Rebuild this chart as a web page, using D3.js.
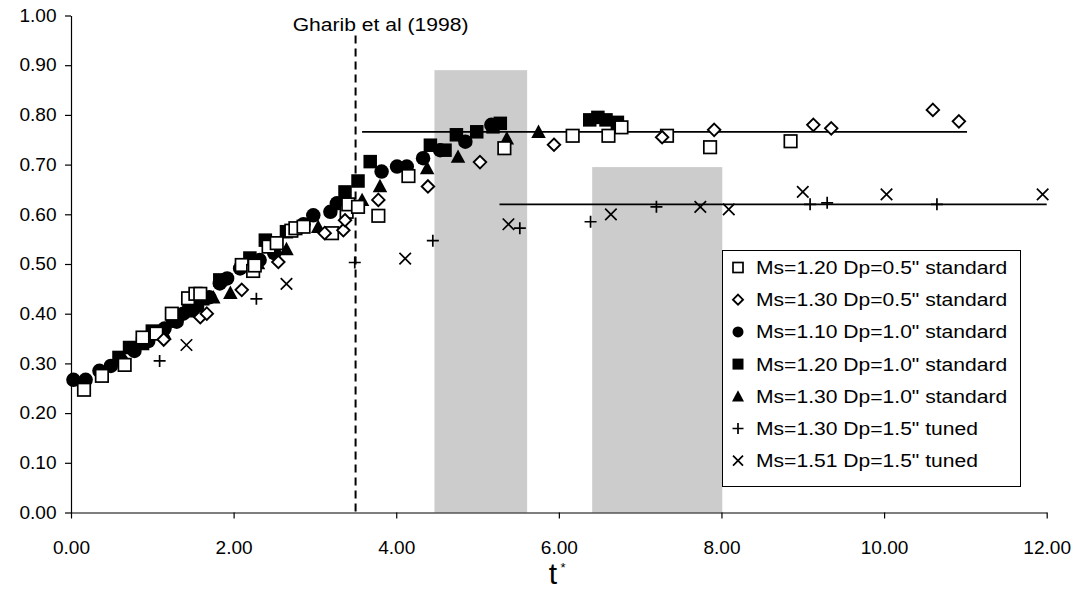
<!DOCTYPE html>
<html><head><meta charset="utf-8">
<script src="https://cdn.jsdelivr.net/npm/d3@7"></script>
<style>body{margin:0;background:#fff}svg{display:block}</style>
</head><body>
<svg id="chart" width="1078" height="592"></svg>
<script>
// ---------- data ----------
const xTicks = [0, 2, 4, 6, 8, 10, 12];
const yTicks = [0, 0.1, 0.2, 0.3, 0.4, 0.5, 0.6, 0.7, 0.8, 0.9, 1.0];
const legendLabels = [
  'Ms=1.20 Dp=0.5" standard',
  'Ms=1.30 Dp=0.5" standard',
  'Ms=1.10 Dp=1.0" standard',
  'Ms=1.20 Dp=1.0" standard',
  'Ms=1.30 Dp=1.0" standard',
  'Ms=1.30 Dp=1.5" tuned',
  'Ms=1.51 Dp=1.5" tuned'
];
const ms120dp05 = [[0.16,0.247],[0.38,0.275],[0.66,0.297],[0.88,0.352],[1.05,0.36],[1.24,0.40],[1.44,0.431],[1.53,0.44],[1.59,0.44],[2.10,0.498],[2.24,0.486],[2.26,0.497],[2.43,0.535],[2.53,0.542],[2.71,0.567],[2.76,0.572],[2.86,0.575],[3.21,0.562],[3.39,0.605],[3.41,0.62],[3.53,0.615],[3.78,0.597],[4.15,0.677],[5.33,0.733],[6.17,0.758],[6.61,0.758],[6.77,0.775],[7.33,0.758],[7.86,0.735],[8.85,0.747]];
const ms130dp05 = [[1.14,0.348],[1.59,0.393],[1.67,0.40],[2.10,0.448],[2.55,0.504],[3.12,0.562],[3.35,0.568],[3.37,0.588],[3.78,0.629],[4.39,0.656],[5.03,0.705],[5.94,0.74],[7.27,0.755],[7.91,0.77],[9.13,0.78],[9.35,0.773],[10.6,0.81],[10.92,0.787]];
const ms110dp10 = [[0.03,0.267],[0.18,0.267],[0.35,0.285],[0.49,0.295],[0.62,0.305],[0.78,0.325],[0.95,0.345],[1.15,0.37],[1.3,0.384],[1.38,0.40],[1.55,0.414],[1.7,0.433],[1.83,0.461],[1.92,0.471],[2.08,0.491],[2.32,0.508],[2.5,0.522],[2.86,0.58],[2.98,0.598],[3.19,0.605],[3.27,0.622],[3.82,0.686],[4.01,0.696],[4.13,0.696],[4.33,0.713],[4.54,0.729],[4.85,0.746],[5.17,0.78]];
const ms120dp10 = [[0.59,0.312],[0.72,0.332],[0.88,0.34],[1.0,0.365],[1.25,0.385],[1.45,0.41],[1.62,0.43],[1.83,0.468],[2.2,0.512],[2.39,0.548],[2.65,0.565],[3.37,0.645],[3.53,0.667],[3.68,0.706],[4.42,0.739],[4.60,0.729],[4.74,0.76],[4.99,0.766],[5.19,0.776],[5.28,0.783],[6.38,0.79],[6.48,0.795],[6.58,0.79],[6.72,0.785]];
const ms130dp10 = [[1.15,0.36],[1.5,0.405],[1.75,0.433],[1.96,0.442],[2.3,0.502],[2.65,0.53],[3.04,0.575],[3.58,0.629],[3.80,0.657],[4.38,0.693],[4.76,0.716],[5.36,0.753],[5.75,0.766]];
const ms130dp15 = [[1.09,0.305],[2.28,0.43],[3.49,0.503],[4.45,0.547],[5.52,0.572],[6.39,0.585],[7.2,0.615],[9.09,0.62],[9.3,0.623],[10.65,0.62]];
const ms151dp15 = [[1.42,0.337],[2.65,0.46],[4.11,0.511],[5.38,0.58],[6.64,0.60],[7.74,0.615],[8.09,0.61],[9.0,0.645],[10.03,0.64],[11.95,0.64]];
const plateauLines = [[3.58, 11.02, 0.766], [5.27, 12.0, 0.62]];
const shadedBands = [[4.47, 5.61, 0.89], [6.41, 8.01, 0.695]];
const gharibT = 3.5;
const gharibLabel = 'Gharib et al (1998)';
const xTitle = 't';

// ---------- setup ----------
const svg = d3.select('#chart');
const FONT = '"Liberation Sans", Arial, sans-serif';
const SX = 1.14;
const x = d3.scaleLinear().domain([0, 12]).range([71, 1046.7]);
const y = d3.scaleLinear().domain([0, 1]).range([512.5, 15.5]);

svg.append('g').selectAll('rect').data(shadedBands).join('rect')
  .attr('x', d => x(d[0])).attr('width', d => x(d[1]) - x(d[0]))
  .attr('y', d => y(d[2])).attr('height', d => y(0) - y(d[2]))
  .attr('fill', '#cccccc');

svg.append('line')
  .attr('x1', x(gharibT)).attr('x2', x(gharibT))
  .attr('y1', y(0.96)).attr('y2', y(0))
  .attr('stroke', '#000').attr('stroke-width', 2).attr('stroke-dasharray', '8,5');

function stretchedText(sel, tx, ty, txt, size, anchor, sx) {
  sel.append('text')
    .attr('transform', `translate(${tx},${ty}) scale(${sx || SX},1)`)
    .attr('text-anchor', anchor || 'start')
    .attr('font-family', FONT).attr('font-size', size).attr('fill', '#000')
    .text(txt);
}
stretchedText(svg, x(gharibT) + 25, 31, gharibLabel, 18.5, 'middle');

const TSX = 1.06;
const yAxis = svg.append('g').attr('transform', `translate(${x(0)},0)`)
  .call(d3.axisLeft(y).tickValues(yTicks).tickFormat(d3.format('.2f')).tickSize(6).tickSizeOuter(0));
const xAxis = svg.append('g').attr('transform', `translate(0,${y(0)})`)
  .call(d3.axisBottom(x).tickValues(xTicks).tickFormat(d3.format('.2f')).tickSize(6).tickSizeOuter(0));
[yAxis, xAxis].forEach(a => {
  a.select('.domain').attr('stroke', '#000').attr('stroke-width', 1.2);
  a.selectAll('.tick line').attr('stroke', '#000').attr('stroke-width', 1.2);
  a.selectAll('text').attr('font-family', FONT).attr('font-size', 18).attr('fill', '#000');
});
yAxis.selectAll('text').attr('x', -14.5 / TSX).attr('transform', `scale(${TSX},1)`);
xAxis.selectAll('text').attr('y', 42).attr('dy', 0).attr('transform', `scale(${TSX},1)`);

svg.append('text').attr('x', 553).attr('y', 584).attr('text-anchor', 'middle')
  .attr('font-family', FONT).attr('font-size', 30).text(xTitle);
svg.append('text').attr('x', 563).attr('y', 572).attr('text-anchor', 'middle')
  .attr('font-family', FONT).attr('font-size', 13).text('*');

svg.append('g').selectAll('line').data(plateauLines).join('line')
  .attr('x1', d => x(d[0])).attr('x2', d => x(d[1]))
  .attr('y1', d => y(d[2])).attr('y2', d => y(d[2]))
  .attr('stroke', '#000').attr('stroke-width', 1.8);

function marker(g, type, s) {
  const h = s / 2;
  switch (type) {
    case 'osq': g.append('rect').attr('x', -h).attr('y', -h).attr('width', s).attr('height', s)
      .attr('fill', '#fff').attr('stroke', '#000').attr('stroke-width', 1.7); break;
    case 'odia': g.append('path').attr('d', `M0,${-h}L${h},0L0,${h}L${-h},0Z`)
      .attr('fill', '#fff').attr('stroke', '#000').attr('stroke-width', 1.9); break;
    case 'circ': g.append('circle').attr('r', h).attr('fill', '#000'); break;
    case 'fsq': g.append('rect').attr('x', -h).attr('y', -h).attr('width', s).attr('height', s).attr('fill', '#000'); break;
    case 'tri': g.append('path').attr('d', `M0,${-h}L${h},${h * 0.85}L${-h},${h * 0.85}Z`).attr('fill', '#000'); break;
    case 'plus': g.append('path').attr('d', `M${-h},0H${h}M0,${-h}V${h}`).attr('stroke', '#000').attr('stroke-width', 1.7).attr('fill', 'none'); break;
    case 'x': g.append('path').attr('d', `M${-h},${-h}L${h},${h}M${-h},${h}L${h},${-h}`).attr('stroke', '#000').attr('stroke-width', 1.7).attr('fill', 'none'); break;
  }
}
const series = [
  {data: ms120dp05, type: 'osq', size: 12.5, lsize: 10},
  {data: ms130dp05, type: 'odia', size: 12.5, lsize: 10},
  {data: ms110dp10, type: 'circ', size: 14.5, lsize: 11},
  {data: ms120dp10, type: 'fsq', size: 13.5, lsize: 11},
  {data: ms130dp10, type: 'tri', size: 14.5, lsize: 12},
  {data: ms130dp15, type: 'plus', size: 12, lsize: 11},
  {data: ms151dp15, type: 'x', size: 11.5, lsize: 10}
];
const drawOrder = [2, 3, 4, 0, 1, 5, 6];
drawOrder.forEach(i => {
  const s = series[i];
  svg.append('g').selectAll('g').data(s.data).join('g')
    .attr('transform', d => `translate(${x(d[0])},${y(d[1])})`)
    .each(function () { marker(d3.select(this), s.type, s.size); });
});

const lg = svg.append('g');
lg.append('rect').attr('x', 722.5).attr('y', 250.5).attr('width', 298).attr('height', 236)
  .attr('fill', '#fff').attr('stroke', '#000').attr('stroke-width', 1);
series.forEach((s, i) => {
  const cy = 267.5 + i * 32.2;
  const g = lg.append('g').attr('transform', `translate(738,${cy})`);
  marker(g, s.type, s.lsize);
  stretchedText(lg, 756, cy + 6.5, legendLabels[i], 18.5, 'start');
});
</script>
</body></html>
